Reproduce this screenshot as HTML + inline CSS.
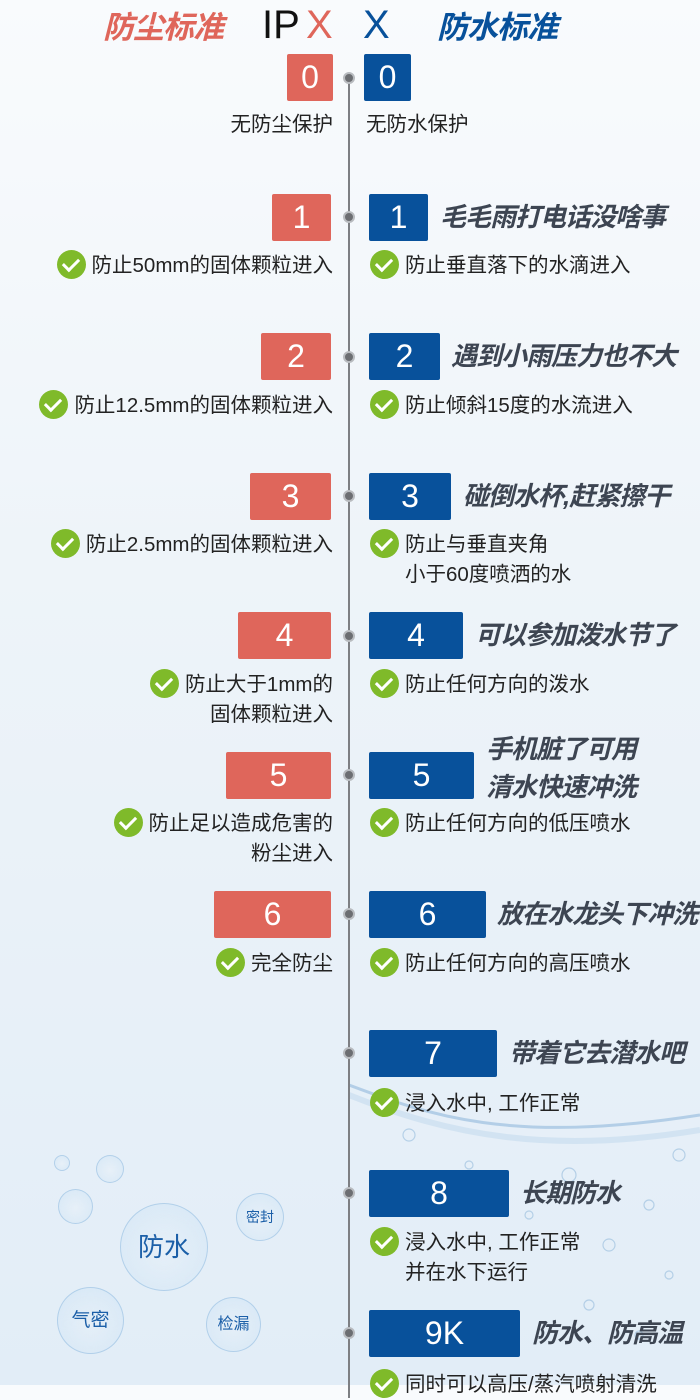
<!DOCTYPE html>
<html><head><meta charset="utf-8"><style>
*{margin:0;padding:0;box-sizing:border-box}
body{width:700px;height:1385px;overflow:hidden;position:relative;font-family:"Liberation Sans","Noto Sans CJK SC",sans-serif;background:linear-gradient(#f9fbfd 0%,#eef4f9 40%,#e2edf7 100%)}
.a{position:absolute}
.t{font-size:31px;font-weight:bold;font-style:italic;top:6px;line-height:44px;letter-spacing:-1px}
.line{left:348px;top:78px;width:2px;height:1320px;background:#7d7f83}
.dot{width:12px;height:12px;border-radius:50%;background:#6c6e72;border:2px solid #b9bcc0;left:343px}
.box{height:47px;color:#fff;font-size:32px;text-align:center;line-height:47px;border-radius:2px}
.r{background:#df665b}.b{background:#08519b}
.s{font-size:26px;font-weight:bold;font-style:italic;color:#3d4552;line-height:47px;white-space:nowrap;letter-spacing:-1px}
.d{font-size:20.5px;color:#222;line-height:30px;white-space:nowrap}
.L{right:367px;text-align:right}
.ck{width:29px;height:29px;border-radius:50%;background:#7fba2a;display:inline-block;vertical-align:middle;position:relative;margin-right:6px;top:-2px}
.ck:after{content:"";position:absolute;left:9px;top:5px;width:7px;height:13px;border:solid #fff;border-width:0 3px 3px 0;transform:rotate(45deg)}
.bub{border-radius:50%;border:1.5px solid rgba(150,190,225,.6);background:radial-gradient(circle at 50% 55%,rgba(255,255,255,.1),rgba(200,225,245,.5));color:#1b5fa8;text-align:center}
</style></head><body>
<div class="a t" style="left:103px;color:#df665b">防尘标准</div>
<div class="a t" style="left:262px;top:3px;color:#111;font-style:normal;font-weight:normal;font-size:40px;letter-spacing:0">IP</div>
<div class="a t" style="left:306px;top:3px;color:#df665b;font-style:normal;font-weight:normal;font-size:40px;letter-spacing:0">X</div>
<div class="a t" style="left:363px;top:3px;color:#08519b;font-style:normal;font-weight:normal;font-size:40px;letter-spacing:0">X</div>
<div class="a t" style="left:437px;color:#08519b">防水标准</div>

<svg class="a" style="left:349px;top:1075px" width="351" height="310"><path d="M0 10 C80 40 160 70 351 40" stroke="#9cc0e0" stroke-width="3" fill="none" opacity=".7"/><path d="M0 20 C100 60 200 80 351 55" stroke="#c4dbee" stroke-width="6" fill="none" opacity=".6"/>
<g fill="none" stroke="#a9c8e3" stroke-width="1.2" opacity=".8"><circle cx="60" cy="60" r="6"/><circle cx="120" cy="90" r="4"/><circle cx="220" cy="100" r="7"/><circle cx="300" cy="130" r="5"/><circle cx="260" cy="170" r="6"/><circle cx="320" cy="200" r="4"/><circle cx="180" cy="140" r="4"/><circle cx="330" cy="80" r="6"/><circle cx="240" cy="230" r="5"/><circle cx="290" cy="260" r="4"/></g></svg>

<div class="a line"></div>
<div class="a dot" style="top:72px"></div><div class="a dot" style="top:211px"></div><div class="a dot" style="top:351px"></div><div class="a dot" style="top:490px"></div><div class="a dot" style="top:630px"></div><div class="a dot" style="top:769px"></div><div class="a dot" style="top:908px"></div><div class="a dot" style="top:1047px"></div><div class="a dot" style="top:1187px"></div><div class="a dot" style="top:1327px"></div>

<div class="a box r" style="left:287px;top:54px;width:46px">0</div>
<div class="a box b" style="left:364px;top:54px;width:47px">0</div>
<div class="a d L" style="top:110px">无防尘保护</div>
<div class="a d" style="left:366px;top:110px">无防水保护</div>

<div class="a box r" style="left:272px;top:194px;width:59px">1</div>
<div class="a box b" style="left:369px;top:194px;width:59px">1</div>
<div class="a s" style="left:440px;top:194px">毛毛雨打电话没啥事</div>
<div class="a d L" style="top:251px"><span class="ck"></span>防止50mm的固体颗粒进入</div>
<div class="a d" style="left:370px;top:251px"><span class="ck"></span>防止垂直落下的水滴进入</div>

<div class="a box r" style="left:261px;top:333px;width:70px">2</div>
<div class="a box b" style="left:369px;top:333px;width:71px">2</div>
<div class="a s" style="left:451px;top:333px">遇到小雨压力也不大</div>
<div class="a d L" style="top:391px"><span class="ck"></span>防止12.5mm的固体颗粒进入</div>
<div class="a d" style="left:370px;top:391px"><span class="ck"></span>防止倾斜15度的水流进入</div>

<div class="a box r" style="left:250px;top:473px;width:81px">3</div>
<div class="a box b" style="left:369px;top:473px;width:82px">3</div>
<div class="a s" style="left:463px;top:473px">碰倒水杯,赶紧擦干</div>
<div class="a d L" style="top:530px"><span class="ck"></span>防止2.5mm的固体颗粒进入</div>
<div class="a d" style="left:370px;top:530px"><span class="ck"></span>防止与垂直夹角<br><span style="padding-left:35px">小于60度喷洒的水</span></div>

<div class="a box r" style="left:238px;top:612px;width:93px">4</div>
<div class="a box b" style="left:369px;top:612px;width:94px">4</div>
<div class="a s" style="left:475px;top:612px">可以参加泼水节了</div>
<div class="a d L" style="top:670px"><span class="ck"></span>防止大于1mm的<br>固体颗粒进入</div>
<div class="a d" style="left:370px;top:670px"><span class="ck"></span>防止任何方向的泼水</div>

<div class="a box r" style="left:226px;top:752px;width:105px">5</div>
<div class="a box b" style="left:369px;top:752px;width:105px">5</div>
<div class="a s" style="left:486px;top:730px;line-height:38px">手机脏了可用<br>清水快速冲洗</div>
<div class="a d L" style="top:809px"><span class="ck"></span>防止足以造成危害的<br>粉尘进入</div>
<div class="a d" style="left:370px;top:809px"><span class="ck"></span>防止任何方向的低压喷水</div>

<div class="a box r" style="left:214px;top:891px;width:117px">6</div>
<div class="a box b" style="left:369px;top:891px;width:117px">6</div>
<div class="a s" style="left:497px;top:891px">放在水龙头下冲洗</div>
<div class="a d L" style="top:949px"><span class="ck"></span>完全防尘</div>
<div class="a d" style="left:370px;top:949px"><span class="ck"></span>防止任何方向的高压喷水</div>

<div class="a box b" style="left:369px;top:1030px;width:128px">7</div>
<div class="a s" style="left:509px;top:1030px">带着它去潜水吧</div>
<div class="a d" style="left:370px;top:1089px"><span class="ck"></span>浸入水中, 工作正常</div>

<div class="a box b" style="left:369px;top:1170px;width:140px">8</div>
<div class="a s" style="left:520px;top:1170px">长期防水</div>
<div class="a d" style="left:370px;top:1228px"><span class="ck"></span>浸入水中, 工作正常<br><span style="padding-left:35px">并在水下运行</span></div>

<div class="a box b" style="left:369px;top:1310px;width:151px">9K</div>
<div class="a s" style="left:532px;top:1310px">防水、防高温</div>
<div class="a d" style="left:370px;top:1370px"><span class="ck"></span>同时可以高压/蒸汽喷射清洗</div>

<div class="a bub" style="left:120px;top:1203px;width:88px;height:88px;line-height:86px;font-size:26px">防水</div>
<div class="a bub" style="left:236px;top:1193px;width:48px;height:48px;line-height:46px;font-size:14px">密封</div>
<div class="a bub" style="left:57px;top:1287px;width:67px;height:67px;line-height:65px;font-size:19px">气密</div>
<div class="a bub" style="left:206px;top:1297px;width:55px;height:55px;line-height:53px;font-size:16px">检漏</div>
<div class="a bub" style="left:58px;top:1189px;width:35px;height:35px"></div>
<div class="a bub" style="left:96px;top:1155px;width:28px;height:28px"></div>
<div class="a bub" style="left:54px;top:1155px;width:16px;height:16px"></div>
</body></html>
